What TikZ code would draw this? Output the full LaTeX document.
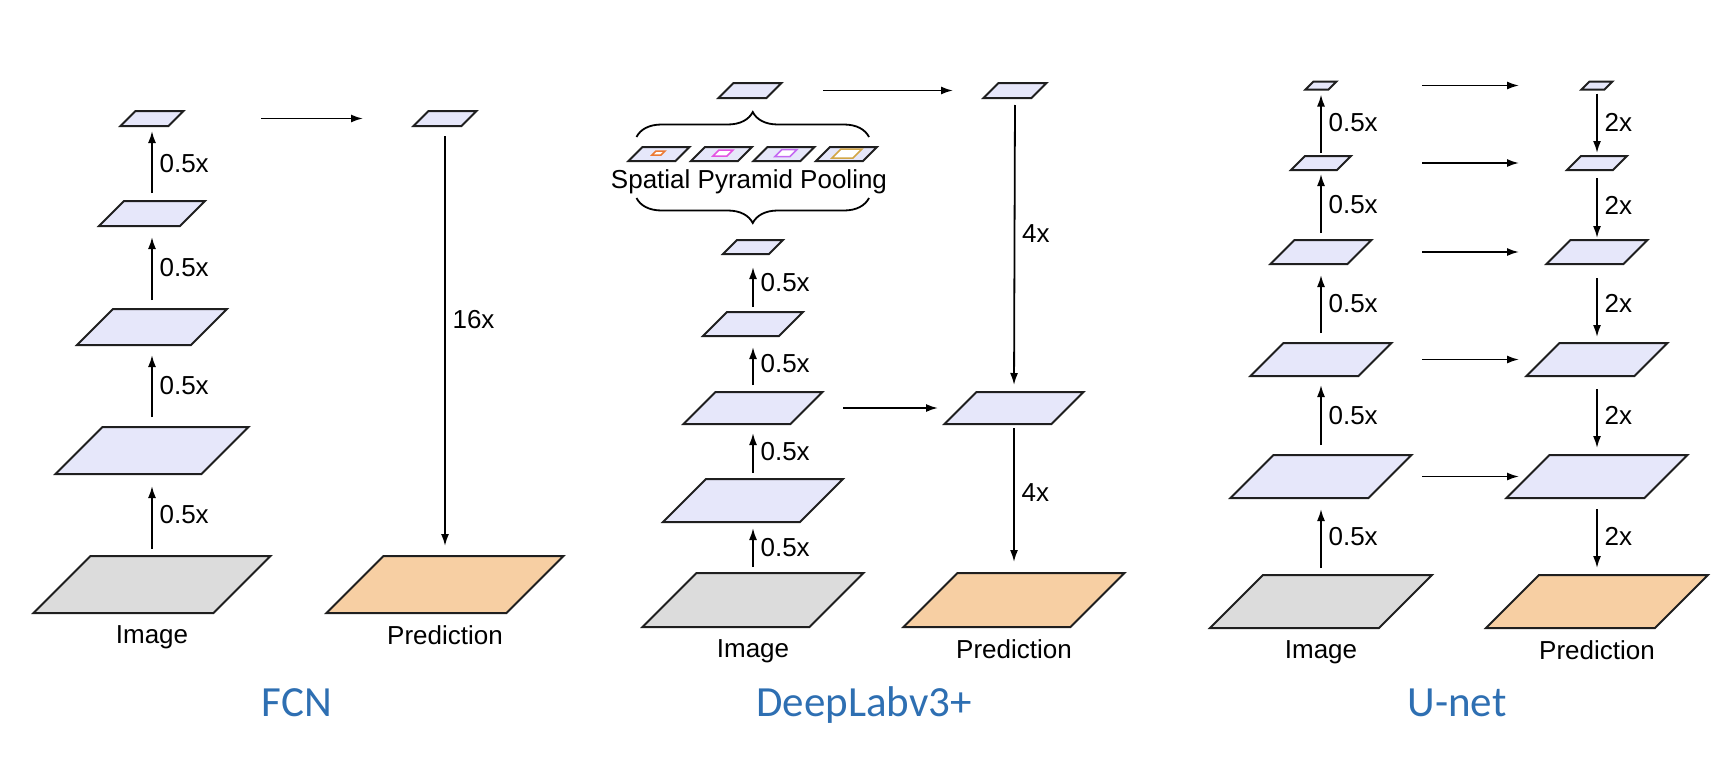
\documentclass[tikz,border=0pt]{standalone}
\usepackage{fontspec}
\setmainfont{Liberation Sans}
\newfontfamily\titlefont{Carlito}
\usetikzlibrary{arrows.meta, positioning, calc, decorations.pathreplacing}

\definecolor{featblue}{HTML}{E6E7FA}
\definecolor{imggray}{HTML}{DCDCDC}
\definecolor{predorange}{HTML}{F7CFA3}
\definecolor{titleblue}{HTML}{2E6FB2}
\definecolor{poolorange}{HTML}{EC7A34}
\definecolor{poolpink}{HTML}{E455E2}
\definecolor{poolviolet}{HTML}{C46AF2}
\definecolor{poolgold}{HTML}{D2A646}

% feature map: invisible box #2 at (#3,#4), face of width #5 and height #6
\newcommand{\fmap}[6][]{%
  \node[slab, minimum width={(#5+#6)*0.5pt}, minimum height={#6*0.5pt}] (#2) at (#3,#4) {};
  \draw[face, #1] (#2.south west) -- ++(#5,0) -- (#2.north east) -- ++(-#5,0) -- cycle;
}

\begin{document}
\begin{tikzpicture}[
  x=0.5pt, y=-0.5pt,
  slab/.style = {inner sep=0pt, outer sep=0pt},
  face/.style = {draw=black!88, line width=1pt, fill=featblue},
  arrow/.style = {line width=0.9pt, -{Latex[length=6pt, width=4pt]}},
  lbl/.style = {font=\fontsize{13}{15.5}\selectfont},
  title/.style = {font=\titlefont\fontsize{21.5}{26}\selectfont, text=titleblue, anchor=base},
  cbrace/.style = {decorate, decoration={brace, amplitude=12.5pt}, line width=0.9pt}
]
\useasboundingbox (0,0) rectangle (1734,760);

%--------------------------------------------------
% FCN
%--------------------------------------------------
\fmap[fill=imggray]{f0}{152}{584.5}{180}{57}
\fmap{f1}{152}{450.5}{146}{47}
\fmap{f2}{152}{327}{114}{36}
\fmap{f3}{152}{213.5}{81}{25}
\fmap{f4}{152}{118.5}{48}{15}
\fmap{fp4}{445}{118.5}{48}{15}
\fmap[fill=predorange]{fp0}{445}{584.5}{180}{57}

% encoder
\foreach \a/\b/\s/\t in {f0/f1/3.5/6, f1/f2/5/5, f2/f3/4.5/5.5, f3/f4/4/2.5}
  \draw[arrow, shorten <=\s pt, shorten >=\t pt] (\a.north) -- node[lbl, right] {0.5x} (\b.south);

% upsampling
\draw[arrow, shorten <=38.75pt, shorten >=25.25pt] (f4.east) -- (fp4.west);
\draw[arrow, shorten <=5pt, shorten >=5pt] (fp4.south) -- node[lbl, right, pos=0.45] {16x} (fp0.north);

\node[lbl, below=3pt of f0] (fimg) {Image};
\node[lbl, below=3pt of fp0] (fpred) {Prediction};
\node[title] (fcn) at (297,716.5) {FCN};

%--------------------------------------------------
% DeepLabv3+
%--------------------------------------------------
\fmap[fill=imggray]{d0}{753}{600}{167}{54}
\fmap{d1}{753}{500.5}{137}{43}
\fmap{d2}{753}{408}{107}{32}
\fmap{d3}{753}{324}{76}{24}
\fmap{d4}{753}{247}{46}{14}
\fmap{d5}{750}{90.5}{48}{15}

% pyramid pooling branches
\foreach \i/\x in {1/659, 2/721.5, 3/784, 4/846.5} {
  \fmap{s\i}{\x}{154}{47}{14}
}
\fmap[draw=poolorange, fill=white, line width=0.75pt]{q1}{658.5}{153}{9}{4}
\fmap[draw=poolpink, fill=white, line width=0.75pt]{q2}{723}{153}{14}{6}
\fmap[draw=poolviolet, fill=white, line width=0.75pt]{q3}{786}{153}{15}{7}
\fmap[draw=poolgold, fill=white, line width=0.75pt]{q4}{847}{153.5}{21}{9}

\draw[cbrace] ([xshift=4pt, yshift=5pt]s1.north west) -- ([xshift=-4pt, yshift=5pt]s4.north east);
\draw[cbrace, decoration={mirror}] ([xshift=4pt, yshift=-18.5pt]s1.south west) -- ([xshift=-4pt, yshift=-18.5pt]s4.south east);
\node[lbl, anchor=base] (spp) at (749,188) {Spatial Pyramid Pooling};

% encoder
\foreach \a/\b/\s/\t in {d0/d1/3/3, d1/d2/3/4.5, d2/d3/3.5/5.5, d3/d4/2.5/6.5}
  \draw[arrow, shorten <=\s pt, shorten >=\t pt] (\a.north) -- node[lbl, right] {0.5x} (\b.south);

% decoder
\fmap{dp5}{1015}{90.5}{48}{15}
\fmap{dp2}{1014}{408}{107}{32}
\fmap[fill=predorange]{dp0}{1014}{600}{167}{54}

\draw[arrow, shorten <=20.75pt, shorten >=15.25pt] (d5.east) -- (dp5.west);
\draw[arrow, shorten <=10.25pt, shorten >=3.25pt] (d2.east) -- (dp2.west);
\draw[arrow, shorten <=3.5pt, shorten >=3.5pt] (dp5.south) -- node[lbl, right, pos=0.46] {4x} (dp2.north);
\draw[arrow, shorten <=2pt, shorten >=5.5pt] (dp2.south) -- node[lbl, right, pos=0.46] {4x} (dp0.north);

\node[lbl, below=3pt of d0] (dimg) {Image};
\node[lbl, below=3pt of dp0] (dpred) {Prediction};
\node[title] (deeplab) at (864,716.5) {DeepLabv3+};

%--------------------------------------------------
% U-net
%--------------------------------------------------
\fmap[fill=imggray]{u0}{1321}{601.5}{169}{53}
\fmap[fill=predorange]{r0}{1597}{601.5}{169}{53}
\foreach \i/\y/\w/\h in {1/476.5/138/43, 2/359.5/108/33, 3/252/77/24, 4/163/46/14, 5/85.5/23/8} {
  \fmap{u\i}{1321}{\y}{\w}{\h}
  \fmap{r\i}{1597}{\y}{\w}{\h}
}

% contracting path
\foreach \a/\b/\s/\t in {u0/u1/3.5/5.5, u1/u2/5/4.5, u2/u3/5/5.5, u3/u4/3.5/2, u4/u5/1.5/2.5}
  \draw[arrow, shorten <=\s pt, shorten >=\t pt] (\a.north) -- node[lbl, right] {0.5x} (\b.south);

% expanding path
\foreach \a/\b/\s/\t in {r5/r4/2/1.5, r4/r3/4/1, r3/r2/7/3, r2/r1/6.5/3.5, r1/r0/5.5/3.5}
  \draw[arrow, shorten <=\s pt, shorten >=\t pt] (\a.south) -- node[lbl, right] {2x} (\b.north);

% skip connections
\foreach \i/\a/\b in {5/42.75/-31.25, 4/35.5/-24, 3/25.25/-13.75, 2/15.25/-3.75, 1/5.25/6.25}
  \draw[arrow] ([xshift=\a pt]u\i.east) -- ([xshift=\b pt]r\i.west);

\node[lbl, below=3pt of u0] (uimg) {Image};
\node[lbl, below=3pt of r0] (upred) {Prediction};
\node[title] (unet) at (1457,716.5) {U-net};

\end{tikzpicture}
\end{document}
